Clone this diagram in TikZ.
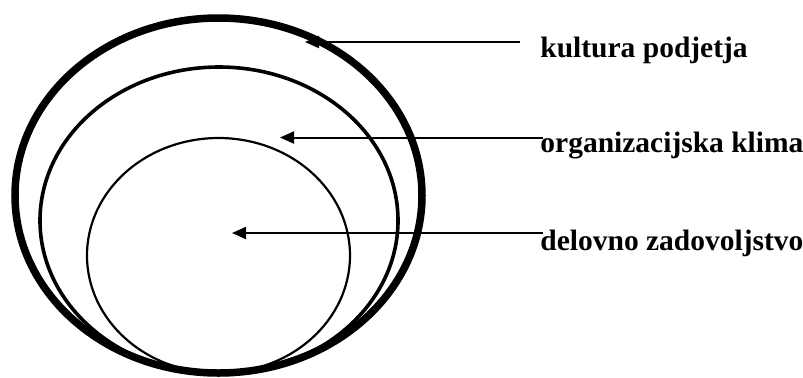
\documentclass[tikz,border=0pt]{standalone}
\usepackage{fontspec}
\setmainfont{Liberation Serif}
\usetikzlibrary{arrows.meta,positioning}
\begin{document}
\begin{tikzpicture}[x=0.5pt, y=-0.5pt,
    ring/.style={draw=black},
    lbl/.style={anchor=base west, inner sep=0pt,
                font=\fontsize{14.75pt}{18pt}\selectfont\bfseries},
    arr/.style={-{Triangle[length=7pt,width=6pt]}, line width=1pt}
  ]
  \useasboundingbox (0,0) rectangle (803,377);

  % nested ellipses
  \draw[ring, line width=3.75pt] (218.5,195.5) ellipse [x radius=203.5, y radius=177.5];
  \draw[ring, line width=1.8pt] (219,220.5) ellipse [x radius=179, y radius=153.5];
  \draw[ring, line width=1.1pt] (218.5,255.5) ellipse [x radius=131.5, y radius=117.5];

  \node[lbl] (kultura) at (540,57) {kultura podjetja};
  \node[lbl] (klima) at (540,152) {organizacijska klima};
  \node[lbl] (zadov) at (540,250) {delovno zadovoljstvo};

  \coordinate (t1) at (305,42);
  \coordinate (t2) at (280,137.5);
  \coordinate (t3) at (232,233);

  \draw[arr] ([xshift=-10pt]kultura.west |- t1) -- (t1);
  \draw[arr] ([xshift=1.5pt]klima.west |- t2) -- (t2);
  \draw[arr] ([xshift=1.5pt]zadov.west |- t3) -- (t3);
\end{tikzpicture}
\end{document}
